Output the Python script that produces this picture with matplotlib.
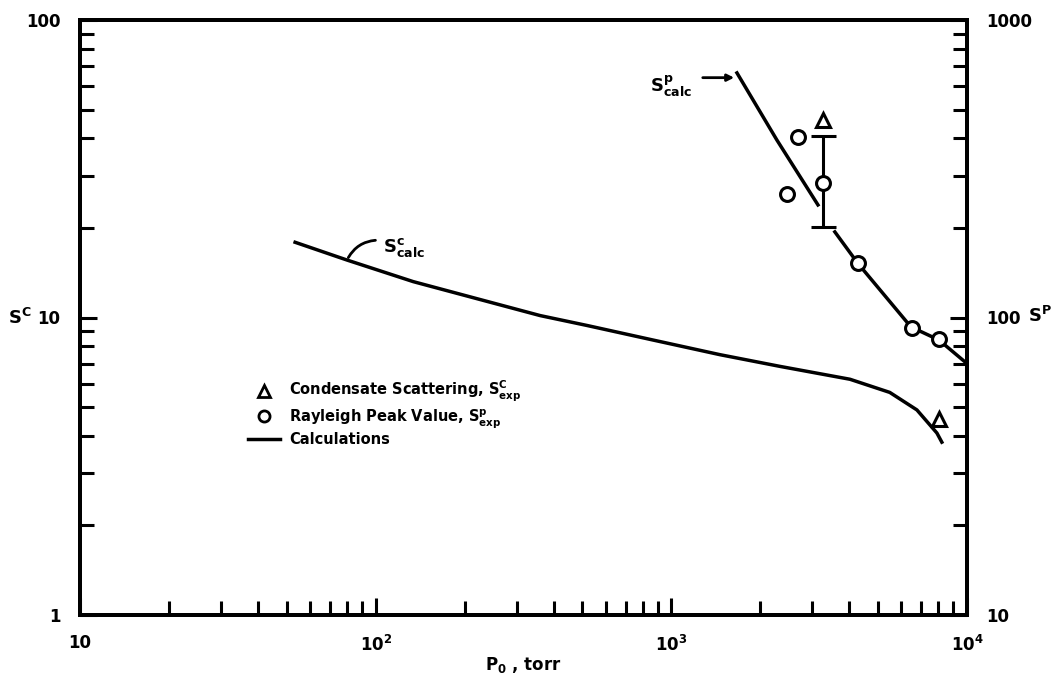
import matplotlib.pyplot as plt
from matplotlib.lines import Line2D

# S^c calculated curve (left axis)
sc_calc_x = [53.4, 80, 134, 225, 360, 519, 867, 1460, 2330, 4020, 5480, 6770, 7910, 8220]
sc_calc_y = [17.9, 15.6, 13.2, 11.5, 10.15, 9.4, 8.4, 7.5, 6.85, 6.2, 5.6, 4.89, 4.09, 3.81]

# S^p calculated curve (right axis), drawn in two pieces
sp_calc_x1 = [1667, 2275, 3133]
sp_calc_y1 = [664, 395, 239]
sp_calc_x2 = [3573, 4276, 6460, 8040, 10000]
sp_calc_y2 = [194, 152, 93, 84, 70]

# Rayleigh peak value, S^p exp (right axis)
sp_exp_x = [2460, 2680, 3260, 4276, 6510, 8040]
sp_exp_y = [260, 404, 283, 152, 92.3, 84.7]

# error bar on the 3260 torr point
err_x = 3260
err_mid = 283
err_lo = 201
err_hi = 407

# condensate scattering, S^c exp (left axis)
sc_exp_x = [3260, 8040]
sc_exp_y = [46.1, 4.56]

plt.rcParams['font.family'] = ['DejaVu Sans']
plt.rcParams['font.weight'] = 'bold'
plt.rcParams['mathtext.default'] = 'bf'

fig = plt.figure(figsize=(10.53, 6.83), dpi=100)
ax = fig.add_axes([80 / 1053, 1 - 615 / 683, 887 / 1053, 595 / 683])
ax2 = ax.twinx()

for a in (ax, ax2):
    a.set_xscale('log')
    a.set_yscale('log')
    for s in a.spines.values():
        s.set_linewidth(2.8)

ax.set_xlim(10, 1e4)
ax.set_ylim(1, 100)
ax2.set_ylim(10, 1000)

# curves
ax.plot(sc_calc_x, sc_calc_y, color='black', lw=2.5)
ax2.plot(sp_calc_x1, sp_calc_y1, color='black', lw=2.5)
ax2.plot(sp_calc_x2, sp_calc_y2, color='black', lw=2.5)

# experimental points
ax.plot(sc_exp_x, sc_exp_y, linestyle='none', marker='^', ms=10,
        mfc='white', mec='black', mew=2.2, zorder=5)
ax2.errorbar([err_x], [err_mid], yerr=[[err_mid - err_lo], [err_hi - err_mid]], fmt='none',
             ecolor='black', elinewidth=2.2, capsize=9, capthick=2.2)
ax2.plot(sp_exp_x, sp_exp_y, linestyle='none', marker='o', ms=10,
         mfc='white', mec='black', mew=2.2, zorder=5)

# ticks
ax.tick_params(axis='both', which='both', direction='in', labelsize=12,
               top=False, right=False, width=2.2)
ax.tick_params(axis='both', which='major', length=12)
ax.tick_params(axis='both', which='minor', length=10)
ax2.tick_params(axis='y', which='both', direction='in', labelsize=12, width=2.2)
ax2.tick_params(axis='y', which='major', length=12)
ax2.tick_params(axis='y', which='minor', length=10)

ax.set_xticks([10, 100, 1000, 10000])
ax.set_xticklabels(['10', '$10^2$', '$10^3$', '$10^4$'])
ax.set_yticks([1, 10, 100])
ax.set_yticklabels(['1', '10', '100'])
ax.yaxis.set_minor_formatter(plt.NullFormatter())
ax.xaxis.set_minor_formatter(plt.NullFormatter())
ax2.set_yticks([10, 100, 1000])
ax2.set_yticklabels(['10', '100', '1000'])
ax2.yaxis.set_minor_formatter(plt.NullFormatter())
ax.tick_params(axis='x', pad=14)
ax.tick_params(axis='y', pad=14)
ax2.tick_params(axis='y', pad=14)

ax.set_xlabel('P$_0$ , torr', fontsize=12, fontweight='bold', labelpad=0)
fig.text(20 / 1053, 1 - 318 / 683, 'S$^C$', fontsize=13, fontweight='bold',
         ha='center', va='center')
fig.text(1040 / 1053, 1 - 316 / 683, 'S$^P$', fontsize=13, fontweight='bold',
         ha='center', va='center')

# annotations
ax2.annotate('', xy=(1667, 640), xytext=(1250, 640),
             arrowprops=dict(arrowstyle='-|>', color='black', lw=2))
ax2.text(850, 600, 'S$^p_{calc}$', fontsize=13, ha='left', va='center')
ax.annotate('', xy=(80, 15.6), xytext=(102, 18.2),
            arrowprops=dict(arrowstyle='-', color='black', lw=2,
                            connectionstyle='arc3,rad=0.3'))
ax.text(106, 17.0, 'S$^c_{calc}$', fontsize=13, ha='left', va='center')

# legend
handles = [
    Line2D([], [], linestyle='none', marker='^', ms=8, mfc='white', mec='black', mew=2),
    Line2D([], [], linestyle='none', marker='o', ms=8, mfc='white', mec='black', mew=2),
    Line2D([], [], color='black', lw=2.5),
]
labels = ['Condensate Scattering, S$^C_{exp}$',
          'Rayleigh Peak Value, S$^p_{exp}$',
          'Calculations']
leg = ax.legend(handles, labels, loc='upper left', bbox_to_anchor=(0.183, 0.406),
                frameon=False, fontsize=10.5, handlelength=2.2, handletextpad=0.6,
                labelspacing=0.15, borderaxespad=0)
for t in leg.get_texts():
    t.set_fontweight('bold')

fig.savefig('out.png', dpi=100)
